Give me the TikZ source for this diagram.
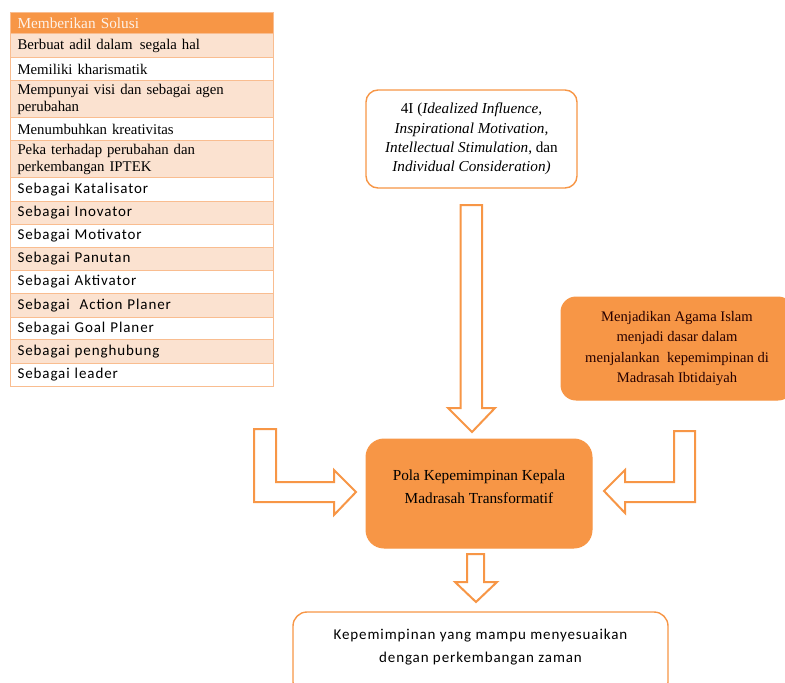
\documentclass[tikz,border=0pt]{standalone}
\usepackage{fontspec}
\setmainfont{Liberation Serif}
\newfontfamily\calfont{Carlito}
\newfontfamily\calwide[LetterSpace=6]{Carlito}
\definecolor{org}{HTML}{F79646}
\definecolor{lite}{HTML}{FBE2D0}
\definecolor{rowline}{HTML}{F9BD90}
\definecolor{hdrtext}{HTML}{FDF1E8}
\begin{document}
\begin{tikzpicture}[x=1pt,y=-1pt,
  rowbase/.style={anchor=north west, draw=rowline, line width=1pt, minimum width=263pt,
    text width=249pt, inner xsep=7pt, inner ysep=0pt, align=left},
  trow/.style={rowbase, font=\fontsize{14.8}{17}\selectfont},
  srow/.style={rowbase, font=\calwide\fontsize{15}{17}\selectfont},
  hdr/.style={rowbase, fill=org, text=hdrtext, font=\fontsize{15.3}{17}\selectfont},
  shaded/.style={fill=lite},
  plain/.style={fill=white},
  whitebox/.style={draw=org, fill=white, line width=1.4pt, rounded corners=12pt},
  orangebox/.style={draw=org, fill=org, line width=1pt, rounded corners=15pt},
  blockarrow/.style={draw=org, fill=white, line width=2pt, line join=miter}]
\useasboundingbox (0,0) rectangle (785,683);
\clip (0,0) rectangle (785,683);

% table
\node[hdr, minimum height=21pt] (h) at (10,12) {Memberikan Solusi};
\node[trow, shaded, minimum height=24pt] (r1) at (10,33) {Berbuat adil dalam\, segala hal};
\node[trow, plain, minimum height=23pt] (r2) at (10,57) {Memiliki kharismatik};
\node[trow, shaded, minimum height=37pt] (r3) at (10,80) {Mempunyai visi dan sebagai agen\\perubahan};
\node[trow, plain, minimum height=23pt] (r4) at (10,117) {Menumbuhkan kreativitas};
\node[trow, shaded, minimum height=37pt] (r5) at (10,140) {Peka terhadap perubahan dan\\perkembangan IPTEK};
\node[srow, plain, minimum height=24pt] (r6) at (10,177) {Sebagai Katalisator};
\node[srow, shaded, minimum height=23pt] (r7) at (10,201) {Sebagai Inovator};
\node[srow, plain, minimum height=23pt] (r8) at (10,224) {Sebagai Motivator};
\node[srow, shaded, minimum height=23pt] (r9) at (10,247) {Sebagai Panutan};
\node[srow, plain, minimum height=23pt] (r10) at (10,270) {Sebagai Aktivator};
\node[srow, shaded, minimum height=24pt] (r11) at (10,293) {Sebagai\ \ Action Planer};
\node[srow, plain, minimum height=22pt] (r12) at (10,317) {Sebagai Goal Planer};
\node[srow, shaded, minimum height=24pt] (r13) at (10,339) {Sebagai penghubung};
\node[srow, plain, minimum height=23pt] (r14) at (10,363) {Sebagai leader};

% boxes
\node[whitebox, minimum width=211pt, minimum height=98pt, align=center,
  font=\fontsize{15.2}{19.2}\selectfont] (fouri) at (471.5,139)
  {4I (\textit{Idealized Influence,}\\ \textit{Inspirational Motivation,}\\
   \textit{Intellectual Stimulation}, dan\\ \textit{Individual Consideration)}};

\node[orangebox, minimum width=232pt, minimum height=103pt, align=center,
  font=\fontsize{14.6}{20.3}\selectfont, text=black!85!red] (agama) at (677,348.5)
  {Menjadikan Agama Islam\\ menjadi dasar dalam\\ menjalankan\ \ kepemimpinan di\\ Madrasah Ibtidaiyah};

\node[orangebox, rounded corners=18pt, minimum width=226pt, minimum height=109pt,
  label={[yshift=7pt, align=center, font=\fontsize{15.3}{23}\selectfont, text=black]center:{Pola Kepemimpinan Kepala\\ Madrasah Transformatif}}]
  (pola) at (479,493.5) {};

\node[whitebox, rounded corners=14pt, minimum width=375pt, minimum height=84pt,
  label={[yshift=6.5pt, align=center, font=\calwide\fontsize{15}{23}\selectfont, text=black]center:{Kepemimpinan yang mampu menyesuaikan\\ dengan perkembangan zaman}}]
  (kep) at (480.5,654) {};

% block arrows
\draw[blockarrow] (460.7,205) -- (482,205) -- (482,408) -- (495,408) -- (472,432)
  -- (448,408) -- (460.7,408) -- cycle;
\draw[blockarrow] (254,429) -- (276,429) -- (276,482) -- (334,482) -- (334,470)
  -- (356,492) -- (334,515) -- (334,502) -- (254,502) -- cycle;
\draw[blockarrow] (695,431) -- (674,431) -- (674,482) -- (625,482) -- (625,470)
  -- (604,491) -- (625,513) -- (625,502) -- (695,502) -- cycle;
\draw[blockarrow] (467,554) -- (484,554) -- (484,582) -- (497,582) -- (476,602)
  -- (455,582) -- (467,582) -- cycle;
\end{tikzpicture}
\end{document}
